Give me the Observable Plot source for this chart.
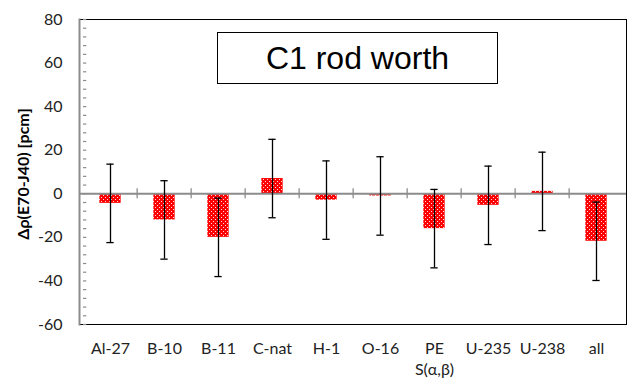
<!DOCTYPE html>
<html>
<head>
<meta charset="utf-8">
<script src="https://cdn.jsdelivr.net/npm/d3@7"></script>
<script src="https://cdn.jsdelivr.net/npm/@observablehq/plot@0.6"></script>
<style>
  body { margin: 0; background: #fff; }
  #wrap { position: relative; width: 630px; height: 385px; }
  #title {
    position: absolute; left: 217px; top: 32px; width: 279px; height: 50px;
    border: 1px solid #000; background: #fff;
    font-family: "Liberation Sans", Arial, sans-serif; font-size: 32px;
    display: flex; align-items: center; justify-content: center; color: #000;
  }
</style>
</head>
<body>
<div id="wrap"><div id="title">C1 rod worth</div></div>
<script>
const categories = ["Al-27", "B-10", "B-11", "C-nat", "H-1", "O-16", "PE", "U-235", "U-238", "all"];
const values = [-4.4, -12, -20, 7, -2.9, -1, -16, -5.3, 1.1, -21.8];
const errors = [18, 18, 18, 18, 18, 18, 18, 18, 18, 18];
const tickLabels = ["Al-27", "B-10", "B-11", "C-nat", "H-1", "O-16", "PE\nS(α,β)", "U-235", "U-238", "all"];
const yTicks = [-60, -40, -20, 0, 20, 40, 60, 80];
const yMinorTicks = d3.range(-60, 81, 4);
const yLabel = "Δρ(E70-J40) [pcm]";

const W = 630, H = 385, mL = 79, mR = 4, mT = 19, mB = 61;
const step = (W - mL - mR) / categories.length;
const ppu = (H - mT - mB) / 140;
const barInset = (step - 22) / 2;
const capInset = (step - 8) / 2;
const halfTick = 5 / ppu;

const data = categories.map((c, i) => ({cat: c, v: values[i], e: errors[i]}));
const labelOf = new Map(categories.map((c, i) => [c, tickLabels[i]]));

const chart = Plot.plot({
  width: W, height: H,
  marginLeft: mL, marginRight: mR, marginTop: mT, marginBottom: mB,
  style: {fontFamily: "Lato, sans-serif", color: "#222", background: "#fff"},
  x: {type: "band", domain: categories, padding: 0},
  y: {domain: [-60, 80]},
  marks: [
    Plot.frame({stroke: "#000", strokeWidth: 1}),
    Plot.axisY({ticks: yTicks, tickSize: 0, tickPadding: 17, fontSize: 16, label: null, tickFormat: d => String(d)}),
    Plot.axisX({tickSize: 0, tickPadding: 14, fontSize: 16, lineHeight: 1.35, label: null, tickFormat: d => labelOf.get(d)}),
    Plot.barY(data, {x: "cat", y: "v", fill: "url(#dots)", insetLeft: barInset, insetRight: barInset}),
    Plot.tickY(yMinorTicks, {y: d => d, x: () => categories[0], insetRight: step - 4, stroke: "#8c8c8c", strokeWidth: 1.2}),
    Plot.frame({anchor: "left", stroke: "#8c8c8c", strokeWidth: 2}),
    Plot.ruleY([0], {stroke: "#8c8c8c", strokeWidth: 2}),
    Plot.ruleX(categories.slice(1), {x: d => d, y1: -halfTick, y2: halfTick, dx: -step / 2, stroke: "#8c8c8c", strokeWidth: 1.3}),
    Plot.ruleX(data, {x: "cat", y1: d => d.v - d.e, y2: d => d.v + d.e, stroke: "#000", strokeWidth: 1.3}),
    Plot.tickY(data, {x: "cat", y: d => d.v + d.e, stroke: "#000", strokeWidth: 1.3, insetLeft: capInset, insetRight: capInset}),
    Plot.tickY(data, {x: "cat", y: d => d.v - d.e, stroke: "#000", strokeWidth: 1.3, insetLeft: capInset, insetRight: capInset}),
    Plot.text([yLabel], {frameAnchor: "left", textAnchor: "middle", lineAnchor: "middle", rotate: -90, dx: -56, dy: 2, fontWeight: "bold", fontSize: 16, fill: "#000"})
  ]
});

const defs = d3.select(chart).insert("defs", ":first-child");
const pat = defs.append("pattern").attr("id", "dots").attr("patternUnits", "userSpaceOnUse")
  .attr("width", 4).attr("height", 4);
pat.append("rect").attr("width", 4).attr("height", 4).attr("fill", "#ff0000");
pat.append("rect").attr("x", 1).attr("y", 1).attr("width", 1).attr("height", 1).attr("fill", "#fff").attr("opacity", 0.85);
pat.append("rect").attr("x", 3).attr("y", 3).attr("width", 1).attr("height", 1).attr("fill", "#fff").attr("opacity", 0.85);

const wrap = document.getElementById("wrap");
wrap.insertBefore(chart, wrap.firstChild);
chart.style.position = "absolute";
chart.style.left = "0";
chart.style.top = "0";
</script>
</body>
</html>
